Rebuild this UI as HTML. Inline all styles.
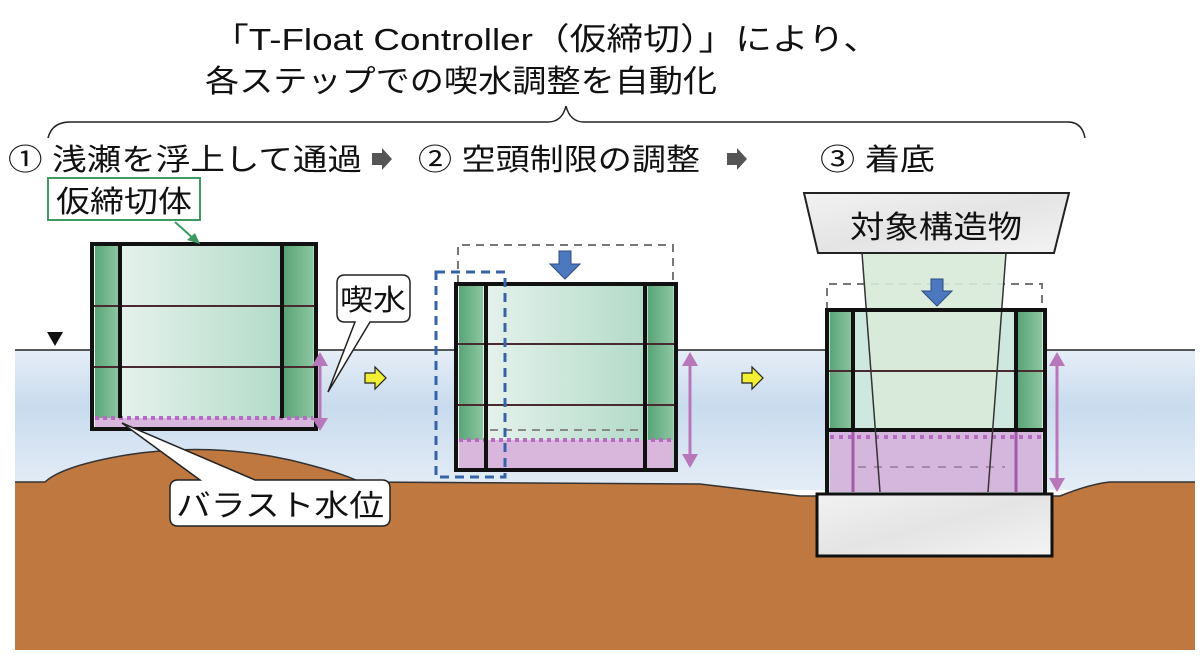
<!DOCTYPE html>
<html><head><meta charset="utf-8"><style>
html,body{margin:0;padding:0;background:#fff;width:1202px;height:662px;overflow:hidden}
svg text{font-family:"Liberation Sans","Noto Sans CJK JP",sans-serif;fill:#111}
</style></head><body>
<svg width="1202" height="662" viewBox="0 0 1202 662" xmlns="http://www.w3.org/2000/svg">
<defs>
<linearGradient id="water" x1="0" y1="0" x2="0" y2="1">
<stop offset="0" stop-color="#e6eef7"/><stop offset="0.4" stop-color="#c9dbee"/><stop offset="1" stop-color="#e4edf6"/></linearGradient>
<linearGradient id="inner" x1="0" y1="0" x2="1" y2="0">
<stop offset="0" stop-color="#eef6f1"/><stop offset="1" stop-color="#a9d6c3"/></linearGradient>
<linearGradient id="col" x1="0" y1="0" x2="1" y2="0">
<stop offset="0" stop-color="#5aa478"/><stop offset="1" stop-color="#8cc6a0"/></linearGradient>
<linearGradient id="conc" x1="0" y1="0" x2="1" y2="1">
<stop offset="0" stop-color="#f2f2f2"/><stop offset="0.5" stop-color="#e4e4e4"/><stop offset="1" stop-color="#f4f4f4"/></linearGradient>
</defs>

<!-- title -->
<text x="212" y="50" font-size="31" textLength="668" lengthAdjust="spacingAndGlyphs">「T-Float Controller（仮締切）」により、</text>
<text x="205" y="92" font-size="31" textLength="512" lengthAdjust="spacingAndGlyphs">各ステップでの喫水調整を自動化</text>
<path d="M48,138 Q52,122 70,122 L548,122 Q562,122 566,106 Q570,122 584,122 L1068,122 Q1082,122 1085,138" fill="none" stroke="#222" stroke-width="1.5"/>

<text x="8" y="170" font-size="30" textLength="354" lengthAdjust="spacingAndGlyphs">① 浅瀬を浮上して通過</text>
<text x="418" y="170" font-size="30" textLength="282" lengthAdjust="spacingAndGlyphs">② 空頭制限の調整</text>
<text x="820" y="170" font-size="30" textLength="115" lengthAdjust="spacingAndGlyphs">③ 着底</text>
<polygon points="372,153 382,153 382,148 392,159 382,170 382,165 372,165" fill="#555"/>
<polygon points="727,153 737,153 737,148 747,159 737,170 737,165 727,165" fill="#555"/>

<!-- water -->
<rect x="15" y="350" width="1180" height="140" fill="url(#water)"/>
<line x1="15" y1="350" x2="1195" y2="350" stroke="#222" stroke-width="1.5"/>
<!-- ground -->
<path d="M15,482 L45,482 Q60,468 110,458 Q200,440 290,460 Q340,472 360,482 L700,484 L800,496 L1060,496 Q1090,484 1110,482 L1195,482 L1195,650 L15,650 Z" fill="#bf7840"/>
<path d="M15,482 L45,482 Q60,468 110,458 Q200,440 290,460 Q340,472 360,482 L700,484 L800,496 L1060,496 Q1090,484 1110,482 L1195,482" fill="none" stroke="#333" stroke-width="1.5"/>

<!-- triangle -->
<polygon points="47,332 63,332 55,346" fill="#111"/>

<!-- Box1 -->
<g>
<rect x="92" y="244" width="224" height="185" fill="url(#inner)"/>
<rect x="95" y="246" width="23" height="181" fill="url(#col)"/>
<rect x="284" y="246" width="29" height="181" fill="url(#col)"/>
<rect x="95" y="418" width="218" height="9" fill="#d9b7dd"/>
<line x1="95" y1="418" x2="313" y2="418" stroke="#b56cc0" stroke-width="4" stroke-dasharray="4,4"/>
<line x1="92" y1="306" x2="316" y2="306" stroke="#4a2a30" stroke-width="2"/>
<line x1="92" y1="367" x2="316" y2="367" stroke="#4a2a30" stroke-width="2"/>
<line x1="120" y1="244" x2="120" y2="418" stroke="#111" stroke-width="4"/>
<line x1="282" y1="244" x2="282" y2="418" stroke="#111" stroke-width="4"/>
<rect x="92" y="244" width="224" height="185" fill="none" stroke="#111" stroke-width="4"/>
</g>
<!-- label 仮締切体 -->
<rect x="48" y="178" width="152" height="42" fill="#fff" stroke="#3c9a62" stroke-width="2"/>
<text x="56" y="212" font-size="30" textLength="136" lengthAdjust="spacingAndGlyphs">仮締切体</text>
<line x1="175" y1="222" x2="194" y2="239" stroke="#3c9a62" stroke-width="2"/>
<polygon points="200,244 187,240 195,233" fill="#3c9a62"/>
<!-- pink arrow 1 -->
<line x1="320" y1="362" x2="320" y2="422" stroke="#b877b8" stroke-width="3"/>
<polygon points="320,352 312,366 328,366" fill="#b877b8"/>
<polygon points="320,431 312,418 328,418" fill="#b877b8"/>
<!-- 喫水 callout -->
<path d="M345,275 L402,275 Q410,275 410,283 L410,314 Q410,322 402,322 L370,322 L328,392 L355,322 L345,322 Q337,322 337,314 L337,283 Q337,275 345,275 Z" fill="#fff" stroke="#222" stroke-width="1.5"/>
<text x="340" y="310" font-size="29" textLength="66" lengthAdjust="spacingAndGlyphs">喫水</text>
<!-- バラスト水位 callout -->
<path d="M178,480 L200,480 L122,423 L255,480 L382,480 Q390,480 390,488 L390,518 Q390,526 382,526 L178,526 Q170,526 170,518 L170,488 Q170,480 178,480 Z" fill="#fff" stroke="#222" stroke-width="1.5"/>
<text x="176" y="516" font-size="30" textLength="208" lengthAdjust="spacingAndGlyphs">バラスト水位</text>
<!-- yellow arrows -->
<polygon points="365,373 375,373 375,367 386,378 375,389 375,383 365,383" fill="#f2ee33" stroke="#222" stroke-width="1.2"/>
<polygon points="742,373 752,373 752,367 763,378 752,389 752,383 742,383" fill="#f2ee33" stroke="#222" stroke-width="1.2"/>

<!-- Box2 -->
<polyline points="458,283 458,245 673,245 673,283" fill="none" stroke="#777" stroke-width="2" stroke-dasharray="8,6"/>
<rect x="456" y="284" width="220" height="186" fill="url(#inner)"/>
<rect x="459" y="286" width="24" height="182" fill="url(#col)"/>
<rect x="648" y="286" width="25" height="182" fill="url(#col)"/>
<rect x="459" y="440" width="214" height="28" fill="#d9b7dd"/>
<line x1="459" y1="440" x2="673" y2="440" stroke="#b56cc0" stroke-width="4" stroke-dasharray="4,4"/>
<line x1="490" y1="430" x2="642" y2="430" stroke="#888" stroke-width="2" stroke-dasharray="8,6"/>
<line x1="456" y1="344" x2="676" y2="344" stroke="#4a2a30" stroke-width="2"/>
<line x1="456" y1="405" x2="676" y2="405" stroke="#4a2a30" stroke-width="2"/>
<line x1="486" y1="284" x2="486" y2="470" stroke="#111" stroke-width="4"/>
<line x1="645" y1="284" x2="645" y2="470" stroke="#111" stroke-width="4"/>
<rect x="456" y="284" width="220" height="186" fill="none" stroke="#111" stroke-width="4"/>
<rect x="436" y="272" width="69" height="205" fill="none" stroke="#3563a8" stroke-width="3" stroke-dasharray="9,6"/>
<polygon points="559,251 571,251 571,264 580,264 565,279 550,264 559,264" fill="#4c78c0" stroke="#2d4c80" stroke-width="1"/>
<line x1="690" y1="362" x2="690" y2="458" stroke="#b877b8" stroke-width="3"/>
<polygon points="690,352 682,366 698,366" fill="#b877b8"/>
<polygon points="690,468 682,454 698,454" fill="#b877b8"/>

<!-- Box3 -->
<polyline points="827,310 827,284 1042,284 1042,310" fill="none" stroke="#777" stroke-width="2" stroke-dasharray="8,6"/>
<rect x="827" y="310" width="218" height="185" fill="#cfe8df"/>
<rect x="830" y="312" width="22" height="118" fill="url(#col)"/>
<rect x="1018" y="312" width="24" height="118" fill="url(#col)"/>
<polygon points="862,253 1006,253 988,492 880,492" fill="#d8ead8" opacity="0.9"/>
<rect x="830" y="432" width="212" height="60" fill="#d5b6dc"/>
<line x1="830" y1="437" x2="1042" y2="437" stroke="#b56cc0" stroke-width="4" stroke-dasharray="4,5"/>
<line x1="858" y1="467" x2="1005" y2="467" stroke="#a68aaa" stroke-width="2" stroke-dasharray="8,8"/>
<line x1="827" y1="371" x2="1045" y2="371" stroke="#4a2a30" stroke-width="2"/>
<line x1="853" y1="310" x2="853" y2="430" stroke="#111" stroke-width="4"/>
<line x1="1016" y1="310" x2="1016" y2="430" stroke="#111" stroke-width="4"/>
<line x1="853" y1="432" x2="853" y2="492" stroke="#a15aa8" stroke-width="3"/>
<line x1="1016" y1="432" x2="1016" y2="492" stroke="#a15aa8" stroke-width="3"/>
<line x1="827" y1="430" x2="1045" y2="430" stroke="#111" stroke-width="4"/>
<line x1="862" y1="253" x2="880" y2="492" stroke="#333" stroke-width="1.5"/>
<line x1="1006" y1="253" x2="988" y2="492" stroke="#333" stroke-width="1.5"/>
<rect x="827" y="310" width="218" height="185" fill="none" stroke="#111" stroke-width="4"/>
<polygon points="931,279 943,279 943,291 952,291 937,306 922,291 931,291" fill="#4c78c0" stroke="#2d4c80" stroke-width="1"/>
<polygon points="804,193 1069,193 1054,253 818,253" fill="url(#conc)" stroke="#222" stroke-width="2"/>
<text x="850" y="238" font-size="31" textLength="172" lengthAdjust="spacingAndGlyphs">対象構造物</text>
<rect x="817" y="494" width="235" height="62" fill="url(#conc)" stroke="#111" stroke-width="3"/>
<line x1="1057" y1="362" x2="1057" y2="482" stroke="#b877b8" stroke-width="3"/>
<polygon points="1057,352 1049,366 1065,366" fill="#b877b8"/>
<polygon points="1057,492 1049,478 1065,478" fill="#b877b8"/>
</svg>
</body></html>
